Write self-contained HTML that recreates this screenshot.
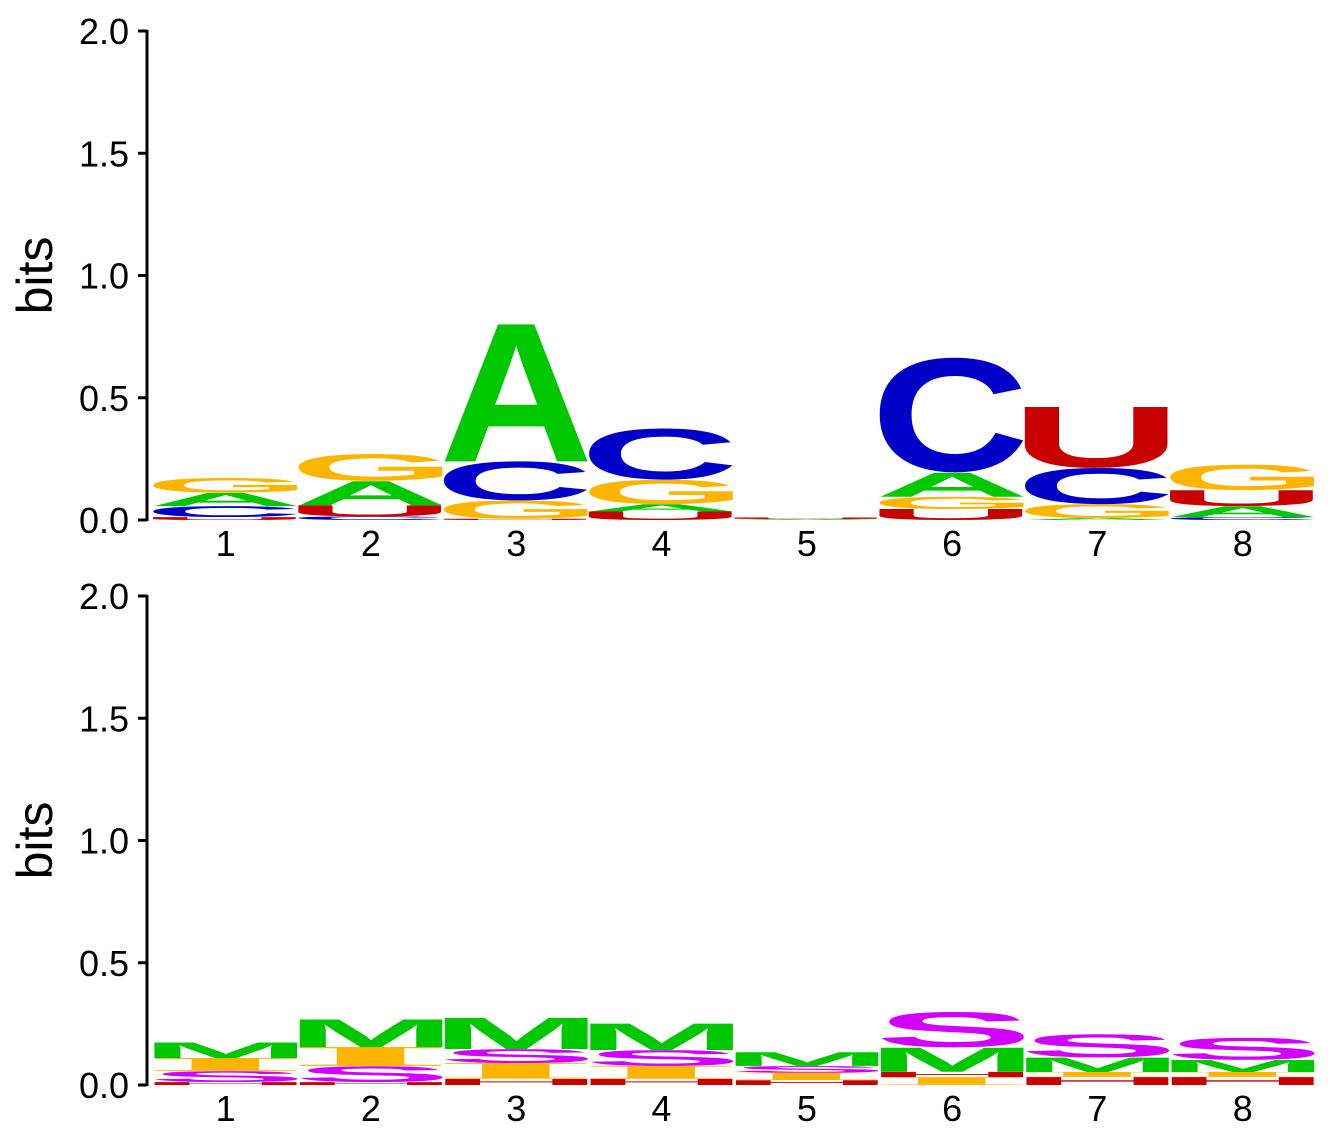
<!DOCTYPE html>
<html><head><meta charset="utf-8"><style>
body{margin:0;background:#fff;}
svg{display:block;font-family:"Liberation Sans",sans-serif;}
</style></head><body>
<svg id="chart" width="1339" height="1130" xmlns="http://www.w3.org/2000/svg"></svg>
<script>
// data
const positions = [1,2,3,4,5,6,7,8];
const yTicks = [0.0,0.5,1.0,1.5,2.0];
const yTickLabels = ["0.0","0.5","1.0","1.5","2.0"];
// top logo stacks (bottom -> top): [letter, bits]
const topStacks = [
 [["U",0.012],["C",0.045],["A",0.055],["G",0.06]],
 [["C",0.015],["U",0.045],["A",0.1],["G",0.11]],
 [["U",0.005],["G",0.075],["C",0.16],["A",0.57]],
 [["U",0.035],["A",0.03],["G",0.1],["C",0.21]],
 [["A",0.004],["U",0.006]],
 [["U",0.045],["G",0.05],["A",0.1],["C",0.47]],
 [["A",0.008],["G",0.057],["C",0.148],["U",0.25]],
 [["C",0.012],["A",0.045],["U",0.065],["G",0.105]]
];
const bottomStacks = [
 [["H",0.012],["S",0.045],["I",0.053],["M",0.065]],
 [["H",0.012],["S",0.065],["I",0.078],["M",0.115]],
 [["H",0.025],["I",0.065],["S",0.057],["M",0.13]],
 [["H",0.025],["I",0.053],["S",0.065],["M",0.11]],
 [["H",0.02],["I",0.03],["S",0.028],["M",0.057]],
 [["I",0.032],["H",0.022],["M",0.1],["S",0.145]],
 [["H",0.033],["I",0.02],["M",0.06],["S",0.095]],
 [["H",0.033],["I",0.02],["M",0.05],["S",0.09]]
];
const colors = {A:"#00c800",C:"#0000c8",G:"#ffb400",U:"#c80000",M:"#00c800",S:"#d200ff",I:"#ffb400",H:"#c80000"};

const NS="http://www.w3.org/2000/svg";
const svg=document.getElementById('chart');
function mk(tag,attrs,parent){const e=document.createElementNS(NS,tag);for(const k in attrs)e.setAttribute(k,attrs[k]);(parent||svg).appendChild(e);return e;}
const cv=document.createElement('canvas').getContext('2d');
const fam=L=>L==='I'?'"Liberation Serif"':'"Liberation Sans"';
const ink={};
function getInk(L){
  if(!ink[L]){cv.font='bold 100px '+fam(L);const m=cv.measureText(L);
    ink[L]={l:m.actualBoundingBoxLeft,r:m.actualBoundingBoxRight,a:m.actualBoundingBoxAscent,d:m.actualBoundingBoxDescent};}
  return ink[L];
}

function drawPanel(stacks, base, name){
  const pxPerBit=244.5;
  const y=v=>base-v*pxPerBit;
  const colW=145.3, x0=153;
  const xc=i=>x0+colW*(i+0.5);
  const g=mk('g',{});
  
  
  stacks.forEach((st,i)=>{
    let acc=0;
    st.forEach(([L,v])=>{
      const yb=y(acc), h=v*pxPerBit;
      acc+=v;
      if(h<0.3) return;
      const k=getInk(L);
      const sx=(colW-0.5)/(k.l+k.r), sy=h/(k.a+k.d);
      const t=mk('text',{x:0,y:0,'font-size':100,'font-weight':'bold','font-family':fam(L),fill:colors[L],
        transform:`translate(${x0+colW*i},${yb-h}) scale(${sx},${sy}) translate(${k.l},${k.a})`},g);
      
      
      t.textContent=L;
    });
  });
  const ax=mk('line',{x1:147,x2:147,y1:y(2)-1,y2:base+1,stroke:'#000','stroke-width':3},g);
  
  
  yTicks.forEach((v,k)=>{
    const tk=mk('line',{x1:138,x2:147,y1:y(v),y2:y(v),stroke:'#000','stroke-width':3},g);
    
    
    const tl=mk('text',{x:129,y:y(v)+13,'font-size':36,'text-anchor':'end',fill:'#000'},g);
    
    
    tl.textContent=yTickLabels[k];
  });
  positions.forEach((p,i)=>{
    const xl=mk('text',{x:xc(i),y:base+36,'font-size':36,'text-anchor':'middle',fill:'#000'},g);
    
    
    xl.textContent=p;
  });
  const yt=mk('text',{x:0,y:0,'font-size':50,'text-anchor':'middle',fill:'#000',
    transform:`translate(52,${y(1)}) rotate(-90)`},g);
  
  
  yt.textContent='bits';
}
drawPanel(topStacks,520,'top-logo-panel');
drawPanel(bottomStacks,1085,'bottom-logo-panel');
</script>
</body></html>
